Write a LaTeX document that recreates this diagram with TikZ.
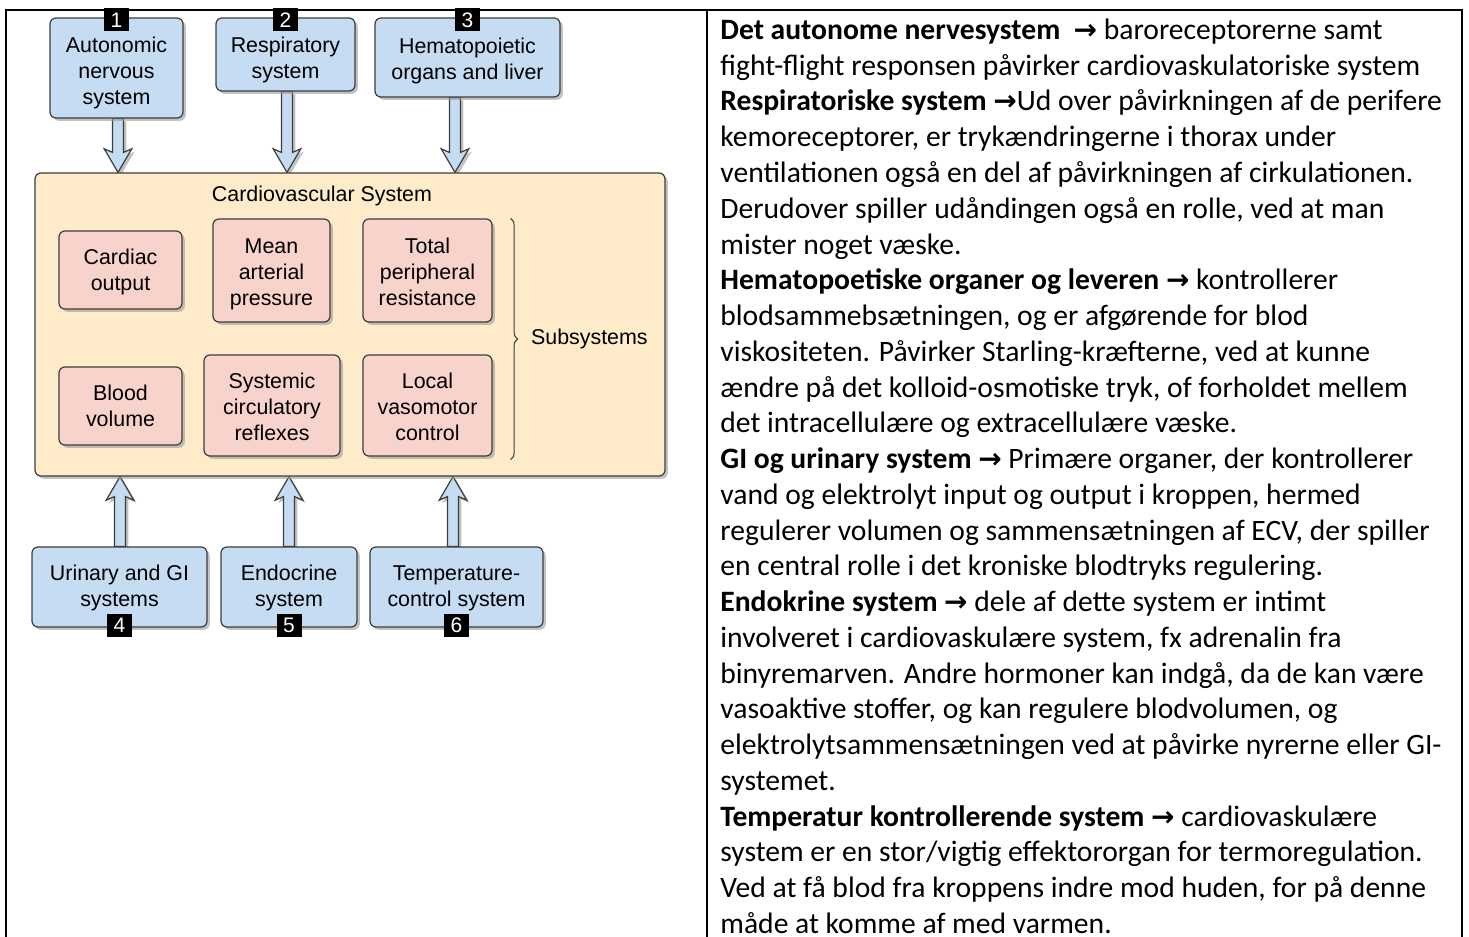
\documentclass[tikz,border=0pt]{standalone}
\usepackage{fontspec}
\usetikzlibrary{calc,shadows,backgrounds,decorations.pathreplacing}
\newfontfamily\diagfont{Liberation Sans}
\newfontfamily\notefont{Carlito}
\newfontfamily\symfont{DejaVu Sans}
\definecolor{sysblue}{HTML}{C6DCF2}
\definecolor{subpink}{HTML}{F8D3CB}
\definecolor{cvpeach}{HTML}{FDEBC9}
\definecolor{boxline}{HTML}{3C3C3C}
\newcommand{\tto}{{\symfont\bfseries\fontsize{14}{14}\selectfont →}}
% centred lines with struts, lowered a little
\newcommand{\boxlines}[2][-1pt]{\raisebox{#1}[\height][\depth]{\begin{tabular}{@{}c@{}}#2\end{tabular}}}
\tikzset{
  shade/.style={drop shadow={shadow xshift=1.4pt, shadow yshift=-1.4pt, fill=black!40, opacity=0.6}},
  sysbox/.style={draw=boxline, fill=sysblue, line width=0.6pt, rounded corners=3pt, inner sep=0pt,
    font=\diagfont\fontsize{10.7}{13}\selectfont, shade},
  subbox/.style={sysbox, fill=subpink},
  cvbox/.style={draw=boxline, fill=cvpeach, line width=0.6pt, rounded corners=3pt, shade,
    minimum width=315pt, minimum height=151.5pt},
  tagbox/.style={fill=black, text=white, inner sep=0pt, minimum width=12.5pt, minimum height=11.5pt,
    font=\diagfont\fontsize{10.5}{10.5}\selectfont},
  blockarr/.style={draw=boxline, fill=sysblue, line width=0.6pt, shade},
  frame/.style={line width=1.1pt}
}
% hollow block arrow: start anchor, end anchor, x offset
\newcommand{\blockarrow}[3]{%
  \draw[blockarr] let \p1=(#1), \p2=(#2), \n1={sign(\y2-\y1)} in
    ({\x1+#3-2.75pt},\y1) -- ({\x1+#3-2.75pt},{\y2-\n1*10pt})
    -- ({\x1+#3-6.9pt},{\y2-\n1*11.8pt}) -- ({\x1+#3},\y2)
    -- ({\x1+#3+6.9pt},{\y2-\n1*11.8pt}) -- ({\x1+#3+2.75pt},{\y2-\n1*10pt})
    -- ({\x1+#3+2.75pt},\y1) -- cycle;}

\begin{document}
\begin{tikzpicture}[x=0.5pt,y=-0.5pt]
\useasboundingbox (0,0) rectangle (1469,937);

% table frame
\draw[frame] (6,937) -- (6,10) -- (1462,10) -- (1462,937);
\draw[frame] (707,10) -- (707,937);

% cardiovascular system
\node[cvbox] (cv) at (350,324.5) {};
\node[font=\diagfont\fontsize{10.7}{13}\selectfont] (cvtitle) at (322,196) {Cardiovascular System};
\node[subbox, minimum width=61.5pt, minimum height=39pt] (co) at (120.5,270) {\boxlines{Cardiac\\output}};
\node[subbox, minimum width=58.5pt, minimum height=51.5pt] (map) at (271.5,270.5) {\boxlines[-2pt]{Mean\\arterial\\pressure}};
\node[subbox, minimum width=64.5pt, minimum height=51.5pt] (tpr) at (427.5,270.5) {\boxlines[-2pt]{Total\\peripheral\\resistance}};
\node[subbox, minimum width=61.5pt, minimum height=39pt] (bv) at (120.5,406) {\boxlines{Blood\\volume}};
\node[subbox, minimum width=68pt, minimum height=50.5pt] (scr) at (272,405.5) {\boxlines[-2pt]{Systemic\\circulatory\\reflexes}};
\node[subbox, minimum width=64.5pt, minimum height=50.5pt] (lvc) at (427.5,405.5) {\boxlines[-2pt]{Local\\vasomotor\\control}};
\draw[decorate, decoration={brace, amplitude=3.5pt}, line width=0.5pt, boxline]
  ([xshift=9pt]tpr.north east) -- ([xshift=9pt,yshift=-1.5pt]lvc.south east)
  node[midway, anchor=west, inner sep=0pt, xshift=10pt, black, font=\diagfont\fontsize{10.7}{13}\selectfont] (subs) {Subsystems};

% influencing systems
\node[sysbox, minimum width=66.5pt, minimum height=50pt] (auto) at (116.5,68) {\boxlines[-2.5pt]{Autonomic\\nervous\\system}};
\node[sysbox, minimum width=69.5pt, minimum height=36.5pt] (resp) at (285.5,54.5) {\boxlines[-3pt]{Respiratory\\system}};
\node[sysbox, minimum width=92.5pt, minimum height=39.5pt] (hema) at (467.5,57.5) {\boxlines[-2pt]{Hematopoietic\\organs and liver}};
\node[sysbox, minimum width=87.5pt, minimum height=40pt] (urin) at (119.5,587) {\boxlines[-0.5pt]{Urinary and GI\\systems}};
\node[sysbox, minimum width=68pt, minimum height=40pt] (endo) at (289,587) {\boxlines[-0.5pt]{Endocrine\\system}};
\node[sysbox, minimum width=86.5pt, minimum height=40pt] (temp) at (456.5,587) {\boxlines[-0.5pt]{Temperature-\\control system}};

\foreach \s/\n in {auto/1,resp/2,hema/3}
  \node[tagbox] (tag\n) at ([yshift=-1.25pt]\s.north) {\n};
\foreach \s/\n in {urin/4,endo/5,temp/6}
  \node[tagbox] (tag\n) at ([yshift=1pt]\s.south) {\n};

\begin{scope}[on background layer]
\blockarrow{auto.south}{cv.north}{0.75pt}
\blockarrow{resp.south}{cv.north}{0.75pt}
\blockarrow{hema.south}{cv.north}{-6.25pt}
\blockarrow{urin.north}{cv.south}{0.25pt}
\blockarrow{endo.north}{cv.south}{0pt}
\blockarrow{temp.north}{cv.south}{-1.75pt}
\end{scope}

% notes column
\node[anchor=north west, inner sep=0pt, align=left, font=\notefont\fontsize{14.8}{17.88}\selectfont] (notes) at (720,18.5) {%
\textbf{Det autonome nervesystem}\ \ \tto\ baroreceptorerne samt\\
fight-flight responsen påvirker cardiovaskulatoriske system\\
\textbf{Respiratoriske system} \tto Ud over påvirkningen af de perifere\\
kemoreceptorer, er trykændringerne i thorax under\\
ventilationen også en del af påvirkningen af cirkulationen.\\
Derudover spiller udåndingen også en rolle, ved at man\\
mister noget væske.\\
\textbf{Hematopoetiske organer og leveren} \tto\ kontrollerer\\
blodsammebsætningen, og er afgørende for blod\\
viskositeten. Påvirker Starling-kræfterne, ved at kunne\\
ændre på det kolloid-osmotiske tryk, of forholdet mellem\\
det intracellulære og extracellulære væske.\\
\textbf{GI og urinary system} \tto\ Primære organer, der kontrollerer\\
vand og elektrolyt input og output i kroppen, hermed\\
regulerer volumen og sammensætningen af ECV, der spiller\\
en central rolle i det kroniske blodtryks regulering.\\
\textbf{Endokrine system} \tto\ dele af dette system er intimt\\
involveret i cardiovaskulære system, fx adrenalin fra\\
binyremarven. Andre hormoner kan indgå, da de kan være\\
vasoaktive stoffer, og kan regulere blodvolumen, og\\
elektrolytsammensætningen ved at påvirke nyrerne eller GI-\\
systemet.\\
\textbf{Temperatur kontrollerende system} \tto\ cardiovaskulære\\
system er en stor/vigtig effektororgan for termoregulation.\\
Ved at få blod fra kroppens indre mod huden, for på denne\\
måde at komme af med varmen.};
\end{tikzpicture}
\end{document}
